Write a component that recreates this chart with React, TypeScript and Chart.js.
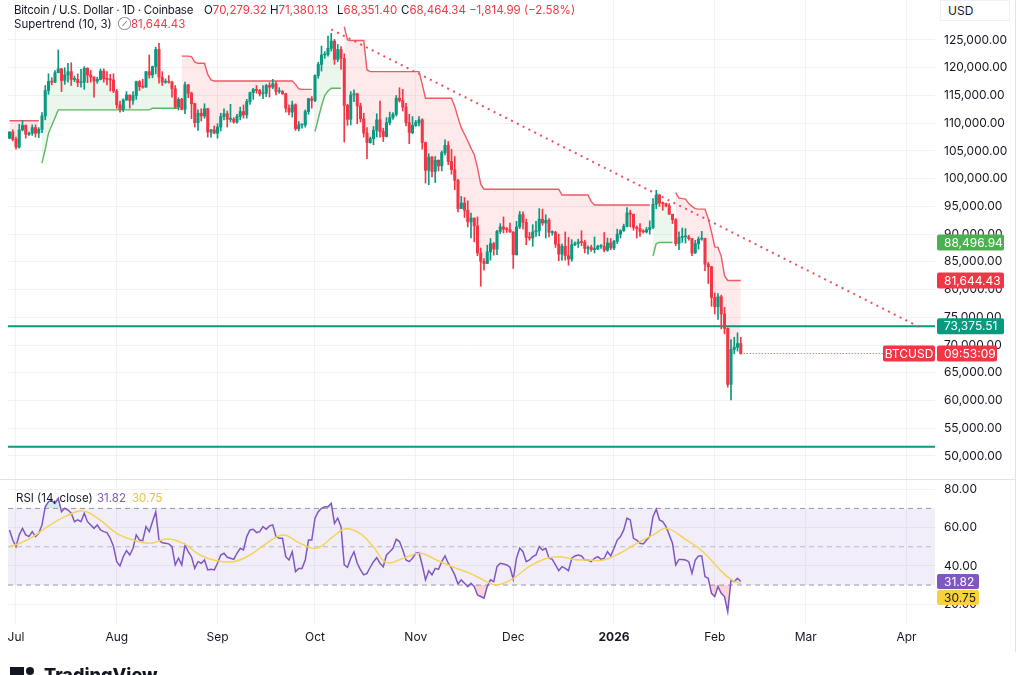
import React, { useEffect, useRef } from "react";
import { Chart, registerables } from "chart.js";

Chart.register(...registerables);

const _ = null;

// ---------------- data (prices in thousand USD) ----------------
const AXIS_ORIGIN = "2025-07-01";
const FIRST_BAR_DATE = "2025-06-29";
const FIRST_OPEN = 107.3;

const CLOSES = [
  108.4, 107.1, 105.7, 108.8, 109.6, 108.0, 108.2, 109.2, 108.2, 108.9,
  111.3, 115.9, 117.5, 117.4, 119.1, 119.8, 117.7, 118.7, 119.3, 117.9,
  117.9, 117.3, 117.4, 119.9, 118.7, 118.3, 117.6, 117.9, 119.4, 118.0,
  117.9, 117.8, 115.8, 113.3, 112.5, 114.2, 115.1, 114.1, 115.0, 117.5,
  116.6, 116.5, 119.3, 118.7, 120.2, 123.3, 118.3, 117.4, 117.5, 117.4,
  116.2, 112.9, 114.3, 112.5, 116.9, 115.4, 113.5, 110.1, 111.8, 111.3,
  112.6, 108.4, 108.8, 108.2, 109.3, 111.2, 111.7, 110.7, 110.7, 110.2,
  111.2, 112.1, 111.5, 113.9, 115.5, 116.1, 115.9, 115.3, 115.4, 116.8,
  116.5, 117.1, 115.7, 115.7, 115.3, 112.7, 112.0, 113.3, 109.0, 109.7,
  109.7, 112.1, 114.4, 114.1, 118.6, 120.6, 122.3, 122.4, 123.5, 124.8,
  121.5, 123.3, 121.7, 113.2, 110.7, 115.1, 115.3, 113.1, 110.8, 108.2,
  106.5, 107.2, 108.7, 110.6, 108.5, 107.6, 110.1, 111.0, 111.6, 114.5,
  114.1, 112.9, 110.1, 108.3, 109.6, 110.1, 110.6, 106.5, 101.5, 103.9,
  101.3, 103.3, 102.3, 104.7, 106.0, 103.1, 101.6, 99.7, 94.6, 95.6,
  94.3, 92.2, 92.9, 91.5, 86.6, 85.1, 84.7, 86.8, 88.3, 87.3,
  90.5, 91.3, 90.9, 90.8, 90.4, 86.3, 91.3, 93.5, 92.1, 89.4,
  89.3, 90.4, 90.6, 92.7, 92.0, 92.5, 90.3, 90.3, 88.2, 86.4,
  87.8, 86.1, 85.5, 88.1, 88.3, 88.6, 88.5, 87.4, 87.6, 87.2,
  87.3, 87.8, 87.8, 87.1, 88.4, 87.5, 88.7, 90.0, 90.6, 91.4,
  93.8, 93.6, 91.2, 91.0, 90.5, 90.4, 90.8, 91.2, 95.4, 97.0,
  95.6, 95.5, 95.1, 93.6, 92.6, 88.3, 89.4, 89.5, 89.5, 89.2,
  86.6, 88.3, 89.1, 89.2, 84.6, 84.1, 78.6, 76.9, 78.7, 75.6,
  73.0, 62.9, 69.2, 69.6, 70.27932, 68.46434,
];

const HIGHS = [
  108.5, 108.8, 107.5, 109.8, 110.5, 109.7, 108.4, 109.7, 109.7, 109.2,
  111.9, 116.8, 118.9, 118.2, 119.5, 123.2, 119.9, 120.0, 120.8, 120.9,
  118.5, 118.9, 119.7, 120.2, 120.0, 119.5, 118.4, 118.3, 119.8, 119.8,
  119.3, 118.8, 118.9, 116.1, 114.0, 114.4, 115.7, 115.1, 115.7, 117.6,
  117.7, 117.9, 119.3, 122.3, 120.3, 123.7, 124.4, 119.3, 118.0, 118.6,
  117.6, 116.8, 114.6, 114.5, 117.4, 117.0, 115.6, 113.6, 112.4, 112.6,
  113.5, 112.7, 108.9, 109.5, 109.9, 111.8, 112.6, 112.2, 113.4, 111.0,
  111.6, 112.9, 113.3, 114.3, 115.6, 116.3, 116.8, 116.1, 116.8, 117.0,
  117.3, 117.9, 117.5, 116.4, 115.9, 115.4, 113.3, 114.0, 113.5, 110.3,
  109.8, 112.4, 114.5, 114.8, 118.7, 121.0, 123.9, 122.9, 125.7, 126.2,
  125.1, 124.2, 123.8, 122.5, 113.4, 115.7, 116.0, 115.4, 113.6, 111.8,
  109.2, 107.5, 109.4, 111.7, 114.0, 109.1, 111.0, 112.0, 111.9, 115.0,
  116.4, 116.1, 113.6, 111.6, 111.2, 110.5, 111.2, 110.8, 106.6, 104.5,
  104.0, 104.0, 103.4, 105.0, 107.0, 106.7, 105.3, 104.0, 99.9, 96.8,
  96.6, 96.0, 93.8, 92.9, 93.1, 87.5, 85.6, 88.0, 89.2, 88.5,
  90.7, 91.9, 93.1, 91.2, 92.0, 90.4, 92.3, 94.1, 94.0, 92.7,
  90.3, 91.7, 92.3, 94.6, 94.5, 93.5, 92.8, 90.6, 90.5, 90.0,
  88.2, 90.4, 89.4, 89.0, 88.6, 89.1, 90.6, 88.9, 87.9, 88.0,
  89.5, 88.0, 88.1, 90.3, 89.3, 89.2, 88.9, 90.9, 90.8, 91.8,
  94.8, 94.3, 93.6, 91.5, 91.9, 90.8, 91.2, 92.4, 96.4, 97.9,
  97.2, 95.8, 95.6, 95.5, 93.5, 92.8, 90.4, 91.1, 91.0, 89.8,
  89.2, 88.9, 89.5, 90.5, 89.3, 84.9, 84.2, 79.4, 79.3, 79.0,
  76.8, 73.1, 71.0, 71.4, 72.2, 71.38013,
];

const LOWS = [
  107.2, 106.8, 105.3, 105.5, 108.6, 107.3, 107.8, 107.8, 107.5, 107.4,
  108.3, 110.6, 115.2, 116.9, 117.3, 119.1, 115.7, 117.0, 117.4, 116.8,
  117.5, 116.6, 116.5, 116.1, 117.3, 117.4, 114.7, 117.2, 117.8, 117.4,
  116.9, 115.8, 115.5, 112.7, 112.0, 112.1, 114.1, 112.7, 113.4, 114.3,
  115.9, 116.3, 116.5, 118.1, 118.2, 118.9, 117.2, 116.8, 117.2, 117.2,
  114.7, 112.7, 112.4, 112.4, 111.7, 114.6, 110.8, 109.3, 108.7, 110.4,
  110.9, 107.5, 107.5, 108.1, 107.3, 108.6, 110.6, 109.3, 110.2, 110.0,
  110.0, 110.6, 110.9, 110.9, 113.4, 114.3, 115.4, 114.9, 114.4, 114.8,
  114.7, 116.2, 115.1, 115.4, 115.2, 112.0, 111.5, 111.1, 108.7, 108.6,
  109.1, 109.3, 111.6, 112.7, 113.9, 118.1, 119.4, 121.7, 122.1, 123.0,
  120.6, 121.1, 119.7, 106.6, 109.6, 109.7, 113.9, 109.9, 110.2, 107.5,
  103.6, 106.4, 106.1, 107.5, 107.5, 106.7, 107.5, 109.7, 110.7, 111.3,
  113.8, 112.2, 109.5, 106.3, 108.1, 109.4, 109.5, 105.3, 99.2, 98.9,
  100.3, 99.3, 101.4, 101.4, 104.3, 102.5, 100.8, 98.0, 94.0, 94.6,
  93.0, 91.3, 89.3, 88.6, 86.1, 80.6, 83.5, 84.7, 85.3, 86.2,
  86.3, 90.1, 90.2, 90.3, 90.3, 83.8, 86.2, 91.0, 90.9, 88.1,
  88.9, 87.8, 89.6, 89.7, 91.6, 89.3, 89.5, 89.8, 87.6, 85.2,
  85.3, 85.3, 84.4, 85.1, 87.9, 87.6, 87.9, 86.6, 86.4, 86.9,
  86.6, 87.2, 87.4, 86.8, 86.9, 87.2, 87.2, 88.3, 89.3, 90.5,
  91.3, 91.3, 90.7, 89.3, 89.6, 90.2, 90.2, 90.0, 91.0, 94.6,
  95.0, 94.3, 94.9, 93.5, 91.9, 87.9, 87.2, 88.5, 88.4, 88.9,
  86.1, 86.5, 87.3, 88.9, 83.4, 81.1, 77.0, 75.6, 74.6, 72.9,
  72.0, 62.4, 60.1, 68.4, 68.9, 68.3514,
];

// Supertrend (10, 3): downtrend line (red) and uptrend line (green), per bar
const ST_DOWN = [
  110.45, 110.45, 110.45, 110.45, 110.45, 110.45, 110.45, 110.45, 110.45, 110.45,
  _, _, _, _, _, _, _, _, _, _,
  _, _, _, _, _, _, _, _, _, _,
  _, _, _, _, _, _, _, _, _, _,
  _, _, _, _, _, _, _, _, _, _,
  _, _, _, 122.1, 122.1, 122.1, 122.0, 121.0, 120.8, 120.8,
  120.8, 118.8, 117.8, 117.6, 117.6, 117.6, 117.6, 117.6, 117.6, 117.6,
  117.6, 117.6, 117.6, 117.6, 117.6, 117.6, 117.6, 117.6, 117.6, 117.6,
  117.6, 117.6, 117.6, 117.6, 117.6, 117.6, 117.6, 117.6, 117.0, 116.2,
  116.1, 116.1, 116.1, 116.1, _, _, _, _, _, _,
  _, _, _, 127.4, 125.0, 124.9, 124.9, 124.9, 124.9, 124.9,
  119.6, 119.3, 119.3, 119.3, 119.3, 119.3, 119.3, 119.3, 119.3, 119.3,
  119.3, 119.3, 119.3, 119.3, 119.3, 119.3, 119.3, 117.0, 114.5, 114.5,
  114.5, 114.5, 114.5, 114.5, 114.5, 114.5, 114.5, 113.0, 111.0, 109.2,
  108.0, 106.8, 105.5, 104.3, 102.0, 99.0, 98.1, 98.1, 98.1, 98.1,
  98.1, 98.1, 98.1, 98.1, 98.1, 98.1, 98.1, 98.1, 98.1, 98.1,
  98.1, 98.1, 98.1, 98.1, 98.1, 98.1, 98.1, 98.1, 98.1, 98.1,
  97.05, 97.05, 97.05, 97.05, 97.05, 97.05, 97.05, 97.05, 97.05, 95.85,
  95.25, 95.25, 95.25, 95.25, 95.25, 95.25, 95.25, 95.25, 95.25, 95.25,
  95.25, 95.25, 95.25, 95.25, 95.25, 95.25, 95.25, 95.25, _, _,
  _, _, _, _, _, 97.5, 96.5, 96.4, 96.3, 95.5,
  95.0, 94.6, 94.5, 94.5, 94.5, 92.8, 90.4, 87.7, 87.6, 86.0,
  82.5, 81.64443, 81.64443, 81.64443, 81.64443, 81.64443,
];

const ST_UP = [
  _, _, _, _, _, _, _, _, _, _,
  102.8, 105.3, 108.2, 109.6, 111.0, 112.4, 112.4, 112.4, 112.4, 112.4,
  112.4, 112.4, 112.4, 112.4, 112.4, 112.4, 112.4, 112.4, 112.4, 112.4,
  112.4, 112.4, 112.4, 112.4, 112.4, 112.4, 112.4, 112.4, 112.4, 112.4,
  112.4, 112.4, 112.4, 112.4, 112.7, 112.7, 112.7, 112.7, 112.7, 112.7,
  112.7, 112.7, 112.7, _, _, _, _, _, _, _,
  _, _, _, _, _, _, _, _, _, _,
  _, _, _, _, _, _, _, _, _, _,
  _, _, _, _, _, _, _, _, _, _,
  _, _, _, _, 108.5, 110.8, 113.1, 115.0, 115.8, 116.3,
  116.3, 116.3, 116.3, _, _, _, _, _, _, _,
  _, _, _, _, _, _, _, _, _, _,
  _, _, _, _, _, _, _, _, _, _,
  _, _, _, _, _, _, _, _, _, _,
  _, _, _, _, _, _, _, _, _, _,
  _, _, _, _, _, _, _, _, _, _,
  _, _, _, _, _, _, _, _, _, _,
  _, _, _, _, _, _, _, _, _, _,
  _, _, _, _, _, _, _, _, _, _,
  _, _, _, _, _, _, _, _, 86.05, 88.3,
  88.49694, 88.49694, 88.49694, 88.49694, 88.49694, _, _, _, _, _,
  _, _, _, _, _, _, _, _, _, _,
  _, _, _, _, _, _,
];

const RSI = [
  58.8, 53.5, 50.1, 56.2, 59.6, 56.2, 55.3, 57.9, 55.3, 57.0,
  61.4, 70.9, 73.6, 74.1, 72.7, 75.3, 68.3, 70.1, 69.2, 67.5,
  63.1, 64.0, 63.1, 67.5, 63.1, 61.4, 59.6, 61.4, 58.8, 57.9,
  57.4, 54.4, 50.1, 42.2, 40.0, 44.8, 48.0, 45.7, 49.2, 56.2,
  53.5, 53.2, 60.5, 57.9, 63.1, 68.3, 53.5, 52.1, 51.8, 51.5,
  50.1, 40.5, 44.0, 40.5, 50.9, 47.4, 44.8, 38.7, 42.2, 41.4,
  43.1, 37.9, 38.2, 37.9, 41.4, 45.7, 46.6, 44.5, 44.0, 43.4,
  46.6, 49.2, 48.3, 55.3, 58.8, 59.1, 57.4, 57.9, 60.5, 59.1,
  60.9, 61.4, 55.3, 54.4, 54.4, 44.8, 43.1, 47.4, 37.0, 38.7,
  38.7, 43.1, 53.5, 53.5, 64.9, 68.3, 70.1, 70.9, 70.9, 72.7,
  62.2, 64.9, 60.5, 40.5, 39.3, 44.0, 47.4, 41.4, 37.9, 35.3,
  36.1, 39.3, 42.2, 44.3, 41.4, 39.6, 45.7, 47.4, 49.2, 53.9,
  52.7, 48.3, 43.1, 42.2, 44.0, 46.6, 46.9, 40.5, 32.7, 37.5,
  35.3, 38.7, 38.2, 42.2, 45.2, 41.4, 38.7, 35.3, 30.6, 32.7,
  30.9, 29.2, 30.9, 29.2, 24.8, 24.0, 23.1, 29.2, 32.7, 31.8,
  39.6, 41.4, 41.0, 40.5, 39.3, 33.0, 44.0, 49.2, 47.4, 42.2,
  43.1, 44.8, 45.7, 50.1, 48.3, 49.2, 44.0, 43.4, 40.5, 37.5,
  39.6, 38.7, 37.5, 44.0, 45.2, 45.7, 45.2, 43.1, 43.1, 42.2,
  44.0, 44.8, 43.4, 44.0, 47.4, 45.2, 49.2, 53.5, 55.3, 58.8,
  64.9, 64.0, 54.4, 53.5, 51.8, 51.5, 53.5, 55.3, 65.7, 69.6,
  64.0, 63.1, 60.5, 56.2, 51.8, 40.5, 43.4, 43.4, 43.1, 42.2,
  36.1, 43.1, 45.2, 45.2, 34.4, 33.5, 25.7, 24.0, 29.2, 25.7,
  24.0, 16.1, 32.7, 31.8, 33.5, 31.82,
];

// RSI-based moving average (read at the points where it was sampled; day offset from Jul 1)
const RSI_MA_DAYS = [
  -2, 1.2, 5.3, 10.5, 15.6, 20.7, 25.8, 31, 36.1, 41.2, 46.4, 51.5, 56.6, 61.7, 66.9, 72,
  77.1, 82.3, 87.4, 92.5, 97.6, 101.2, 105.8, 109.9, 114, 119.2, 124.3, 129.4, 134.6,
  139.7, 144.8, 147.9, 153, 158.2, 163.3, 167.4, 171.5, 175.6, 180.7, 185.8, 191,
  196.1, 200.2, 206.3, 211.4, 216.6, 220.2, 223,
];
const RSI_MA = [
  50.1, 51.8, 55.3, 61.4, 66.1, 68.7, 64.0, 57.0, 53.5, 51.8, 54.1, 51.8, 45.7, 42.7, 42.2, 45.7,
  51.8, 56.2, 51.8, 49.2, 55.3, 59.3, 57.0, 50.1, 41.7, 44.0, 46.6, 43.1, 39.3,
  36.1, 31.8, 30.0, 33.5, 40.0, 44.0, 44.8, 43.4, 43.1, 43.1, 46.6, 51.8,
  56.2, 59.6, 53.5, 47.4, 37.9, 32.7, 30.75,
];

const MONTH_TICK_DATES = [
  "2025-07-01", "2025-08-01", "2025-09-01", "2025-10-01", "2025-11-01", "2025-12-01",
  "2026-01-01", "2026-02-01", "2026-03-01", "2026-04-01",
];
const MONTH_LABELS = ["Jul", "Aug", "Sep", "Oct", "Nov", "Dec", "2026", "Feb", "Mar", "Apr"];
const PRICE_TICKS = [50000, 55000, 60000, 65000, 70000, 75000, 80000, 85000, 90000, 95000, 100000, 105000, 110000, 115000, 120000, 125000];
const RSI_TICKS = [20, 40, 60, 80];

const SUPPORT_LEVEL = 73375.51;
const LOWER_LEVEL = 51650;
const TREND_DAYS = [97, 277.8];
const TREND_PRICES = [126900, 73300];
const LAST_CLOSE = 68464.34;
const ST_UP_LAST = 88496.94;
const ST_DOWN_LAST = 81644.43;
const RSI_LAST = 31.82;
const RSI_MA_LAST = 30.75;
const COUNTDOWN = "09:53:09";

// ---------------- helpers ----------------
const DAY_MS = 86400000;
const dayOf = (iso: string) =>
  Math.round((Date.parse(iso + "T00:00:00Z") - Date.parse(AXIS_ORIGIN + "T00:00:00Z")) / DAY_MS);
const FIRST_DAY = dayOf(FIRST_BAR_DATE);
const MONTH_DAYS = MONTH_TICK_DATES.map(dayOf);
const X_MIN = -2.46;
const X_MAX = 282.77;
const Y_MIN = 45848;
const Y_MAX = 132212;
const RSI_MIN = 9.14;
const RSI_MAX = 85.38;

const UP = "#089981";
const DOWN = "#f23645";
const FONT = "Inter, Roboto, 'Noto Sans', sans-serif";
const TEXT = "#131722";

const BARS = CLOSES.map((c, i) => ({
  x: FIRST_DAY + i,
  o: (i === 0 ? FIRST_OPEN : CLOSES[i - 1]) * 1000,
  h: HIGHS[i] * 1000,
  l: LOWS[i] * 1000,
  c: c * 1000,
}));
const BAR_COLORS = BARS.map((b) => (b.c >= b.o ? UP : DOWN));

const fmt2 = (v: number) =>
  v.toLocaleString("en-US", { minimumFractionDigits: 2, maximumFractionDigits: 2 });

function drawBox(ctx: any, x: number, yc: number, w: number, h: number, bg: string, fg: string, text: string, align = "left") {
  ctx.fillStyle = bg;
  ctx.beginPath();
  if (ctx.roundRect) ctx.roundRect(x, yc - h / 2, w, h, 2);
  else ctx.rect(x, yc - h / 2, w, h);
  ctx.fill();
  ctx.fillStyle = fg;
  ctx.textBaseline = "middle";
  if (align === "center") {
    ctx.textAlign = "center";
    ctx.fillText(text, x + w / 2, yc + 0.5);
  } else {
    ctx.textAlign = "left";
    ctx.fillText(text, x + 7, yc + 0.5);
  }
}

const mainOverlay = {
  id: "mainOverlay",
  afterDraw(chart: any) {
    const { ctx, chartArea, scales } = chart;
    const y = scales.y;
    ctx.save();
    ctx.font = `12px ${FONT}`;
    const ax = chartArea.right + 2;
    drawBox(ctx, ax, y.getPixelForValue(ST_UP_LAST), 67, 16, "#4caf50", "#fff", fmt2(ST_UP_LAST));
    drawBox(ctx, ax, y.getPixelForValue(ST_DOWN_LAST), 67, 16, DOWN, "#fff", fmt2(ST_DOWN_LAST));
    drawBox(ctx, ax, y.getPixelForValue(SUPPORT_LEVEL), 67, 16, UP, "#fff", fmt2(SUPPORT_LEVEL));
    const yl = y.getPixelForValue(LAST_CLOSE);
    drawBox(ctx, chartArea.right - 52, yl, 52, 16, DOWN, "#fff", "BTCUSD", "center");
    drawBox(ctx, ax, yl, 60, 16, DOWN, "#fff", COUNTDOWN);
    ctx.restore();
  },
};

const rsiOverlay = {
  id: "rsiOverlay",
  afterDraw(chart: any) {
    const { ctx, chartArea, scales } = chart;
    const y = scales.y;
    ctx.save();
    ctx.font = `12px ${FONT}`;
    const ax = chartArea.right + 2;
    const yc = y.getPixelForValue(RSI_LAST);
    drawBox(ctx, ax, yc, 42, 15, "#7e57c2", "#fff", RSI_LAST.toFixed(2));
    drawBox(ctx, ax, yc + 16, 42, 15, "#f7d23e", TEXT, RSI_MA_LAST.toFixed(2));
    ctx.restore();
  },
};

const lineLevel = (v: number) => [
  { x: X_MIN, y: v },
  { x: X_MAX, y: v },
];

function mainConfig(): any {
  const mid = BARS.map((b) => ({ x: b.x, y: (b.o + b.c) / 2 }));
  return {
    type: "bar",
    data: {
      datasets: [
        { type: "line", label: "body middle", data: mid, borderColor: "rgba(0,0,0,0)", borderWidth: 0, pointRadius: 0, fill: false, order: 30 },
        {
          type: "line", label: "Supertrend down", data: ST_DOWN.map((v, i) => ({ x: FIRST_DAY + i, y: v == null ? null : v * 1000 })),
          borderColor: "#ee5a66", borderWidth: 1.4, pointRadius: 0, spanGaps: false,
          fill: { target: 0, above: "rgba(242,54,69,0.11)", below: "rgba(242,54,69,0.11)" }, order: 25,
        },
        {
          type: "line", label: "Supertrend up", data: ST_UP.map((v, i) => ({ x: FIRST_DAY + i, y: v == null ? null : v * 1000 })),
          borderColor: "#5cb860", borderWidth: 1.4, pointRadius: 0, spanGaps: false,
          fill: { target: 0, above: "rgba(76,175,80,0.11)", below: "rgba(76,175,80,0.11)" }, order: 25,
        },
        { type: "line", label: "level", data: lineLevel(SUPPORT_LEVEL), borderColor: UP, borderWidth: 2, pointRadius: 0, order: 10 },
        { type: "line", label: "lower level", data: lineLevel(LOWER_LEVEL), borderColor: UP, borderWidth: 2, pointRadius: 0, order: 10 },
        {
          type: "line", label: "trend", data: TREND_DAYS.map((d, i) => ({ x: d, y: TREND_PRICES[i] })),
          borderColor: "#ee4f5c", borderWidth: 2, borderDash: [2, 4.5], pointRadius: 0, order: 9,
        },
        {
          type: "line", label: "last price", data: [{ x: BARS[BARS.length - 1].x, y: LAST_CLOSE }, { x: X_MAX, y: LAST_CLOSE }],
          borderColor: DOWN, borderWidth: 1, borderDash: [1, 2], pointRadius: 0, order: 9,
        },
        {
          type: "bar", label: "wicks", data: BARS.map((b) => ({ x: b.x, y: [b.l, b.h] })),
          backgroundColor: BAR_COLORS, barThickness: 1, grouped: false, order: 2,
        },
        {
          type: "bar", label: "bodies", data: BARS.map((b) => ({ x: b.x, y: [b.o, b.c] })),
          backgroundColor: BAR_COLORS, barThickness: 2.4, grouped: false, minBarLength: 1, order: 1,
        },
      ],
    },
    options: {
      animation: false,
      responsive: false,
      maintainAspectRatio: false,
      events: [],
      layout: { padding: { left: 8, right: 0, top: 0, bottom: 0 } },
      plugins: { legend: { display: false }, tooltip: { enabled: false } },
      scales: {
        x: {
          type: "linear", min: X_MIN, max: X_MAX, offset: false,
          grid: { color: "#f0f2f6", drawTicks: false, offset: false },
          border: { display: false },
          ticks: { display: false },
          afterBuildTicks: (s: any) => { s.ticks = MONTH_DAYS.map((v) => ({ value: v })); },
          afterFit: (s: any) => { s.height = 0; s.paddingLeft = 0; s.paddingRight = 0; },
        },
        y: {
          type: "linear", position: "right", min: Y_MIN, max: Y_MAX,
          grid: { color: "#f0f2f6", drawTicks: false },
          border: { display: false },
          ticks: { padding: 9, color: TEXT, font: { family: FONT, size: 12 }, callback: (v: any) => fmt2(Number(v)) },
          afterBuildTicks: (s: any) => { s.ticks = PRICE_TICKS.map((v) => ({ value: v })); },
          afterFit: (s: any) => { s.width = 89; s.paddingTop = 0; s.paddingBottom = 0; },
        },
      },
    },
    plugins: [mainOverlay],
  };
}

function rsiConfig(): any {
  const gray = "rgba(120,123,134,0.75)";
  return {
    type: "line",
    data: {
      datasets: [
        { label: "30", data: lineLevel(30), borderColor: gray, borderWidth: 1, borderDash: [5, 4], pointRadius: 0, fill: false, order: 20 },
        {
          label: "70", data: lineLevel(70), borderColor: gray, borderWidth: 1, borderDash: [5, 4], pointRadius: 0,
          fill: { target: 0, above: "rgba(126,87,194,0.10)", below: "rgba(126,87,194,0.10)" }, order: 20,
        },
        { label: "50", data: lineLevel(50), borderColor: "rgba(120,123,134,0.45)", borderWidth: 1, borderDash: [5, 4], pointRadius: 0, fill: false, order: 19 },
        {
          label: "RSI oversold fill", data: RSI.map((v, i) => ({ x: FIRST_DAY + i, y: v })), borderColor: "rgba(0,0,0,0)", borderWidth: 0, pointRadius: 0,
          fill: { target: { value: 30 }, above: "rgba(0,0,0,0)", below: "rgba(242,54,69,0.22)" }, order: 5,
        },
        {
          label: "RSI overbought fill", data: RSI.map((v, i) => ({ x: FIRST_DAY + i, y: v })), borderColor: "rgba(0,0,0,0)", borderWidth: 0, pointRadius: 0,
          fill: { target: { value: 70 }, above: "rgba(8,153,129,0.18)", below: "rgba(0,0,0,0)" }, order: 5,
        },
        {
          label: "RSI", data: RSI.map((v, i) => ({ x: FIRST_DAY + i, y: v })), borderColor: "#7e57c2", borderWidth: 1.5, pointRadius: 0, fill: false, order: 2,
        },
        {
          label: "RSI-based MA", data: RSI_MA_DAYS.map((d, i) => ({ x: d, y: RSI_MA[i] })), borderColor: "#f5d35a", borderWidth: 1.5,
          tension: 0.4, pointRadius: 0, fill: false, order: 1,
        },
      ],
    },
    options: {
      animation: false,
      responsive: false,
      maintainAspectRatio: false,
      events: [],
      layout: { padding: { left: 8, right: 0, top: 0, bottom: 0 } },
      plugins: { legend: { display: false }, tooltip: { enabled: false } },
      scales: {
        x: {
          type: "linear", min: X_MIN, max: X_MAX, offset: false,
          grid: { color: "#f0f2f6", drawTicks: false },
          border: { display: false },
          ticks: {
            padding: 5, color: TEXT, autoSkip: false, maxRotation: 0,
            font: (c: any) => ({ family: FONT, size: 12, weight: c.tick && c.tick.value === MONTH_DAYS[6] ? "bold" : "normal" }),
            callback: (v: any) => MONTH_LABELS[MONTH_DAYS.indexOf(Number(v))] ?? "",
          },
          afterBuildTicks: (s: any) => { s.ticks = MONTH_DAYS.map((v) => ({ value: v })); },
          afterFit: (s: any) => { s.height = 50; s.paddingLeft = 0; s.paddingRight = 0; },
        },
        y: {
          type: "linear", position: "right", min: RSI_MIN, max: RSI_MAX,
          grid: { color: "#f0f2f6", drawTicks: false },
          border: { display: false },
          ticks: { padding: 9, color: TEXT, font: { family: FONT, size: 12 }, callback: (v: any) => Number(v).toFixed(2) },
          afterBuildTicks: (s: any) => { s.ticks = RSI_TICKS.map((v) => ({ value: v })); },
          afterFit: (s: any) => { s.width = 89; s.paddingTop = 0; s.paddingBottom = 0; },
        },
      },
    },
    plugins: [rsiOverlay],
  };
}

const abs = (left: number, top: number, extra: any = {}): any => ({
  position: "absolute", left, top, lineHeight: "16px", whiteSpace: "nowrap", ...extra,
});

export default function App() {
  const mainRef = useRef<HTMLCanvasElement>(null);
  const rsiRef = useRef<HTMLCanvasElement>(null);

  useEffect(() => {
    const main = new Chart(mainRef.current as HTMLCanvasElement, mainConfig());
    const rsi = new Chart(rsiRef.current as HTMLCanvasElement, rsiConfig());
    return () => {
      main.destroy();
      rsi.destroy();
    };
  }, []);

  const hs = { fontSize: 11.5, color: TEXT };
  const red = { fontSize: 11.5, color: DOWN };
  return (
    <div style={{ position: "fixed", left: 0, top: 0, width: 1024, height: 675, overflow: "hidden", background: "#fff", fontFamily: FONT }}>
      <canvas ref={mainRef} width={1024} height={479} style={{ position: "absolute", left: 0, top: 0 }} />
      <canvas ref={rsiRef} width={1024} height={196} style={{ position: "absolute", left: 0, top: 479 }} />
      <div style={{ position: "absolute", left: 0, top: 479, width: 1015, height: 1, background: "#e0e3eb" }} />
      <div style={{ position: "absolute", left: 1015, top: 0, width: 1, height: 652, background: "#e0e3eb" }} />

      <div style={abs(14, 2, { ...hs, letterSpacing: "-0.25px" })}>Bitcoin / U.S. Dollar · 1D · Coinbase</div>
      <div style={abs(204, 2, hs)}>O<span style={{ color: DOWN }}>70,279.32</span></div>
      <div style={abs(270, 2, hs)}>H<span style={{ color: DOWN }}>71,380.13</span></div>
      <div style={abs(337, 2, hs)}>L<span style={{ color: DOWN }}>68,351.40</span></div>
      <div style={abs(401, 2, hs)}>C<span style={{ color: DOWN }}>68,464.34</span></div>
      <div style={abs(469, 2, red)}>−1,814.99 (−2.58%)</div>

      <div style={abs(14, 16, hs)}>Supertrend (10, 3)</div>
      <div style={abs(118, 16, { fontSize: 9.5, color: "#787b86" })}>⊘</div>
      <div style={abs(131, 16, red)}>81,644.43</div>

      <div style={{ position: "absolute", left: 940, top: 0, width: 70, height: 21, background: "#fff", border: "1px solid #eef0f4", boxSizing: "border-box" }} />
      <div style={abs(948, 3, { fontSize: 12, color: TEXT })}>USD</div>

      <div style={abs(16, 490, hs)}>RSI (14, close)</div>
      <div style={abs(97, 490, { fontSize: 11.5, color: "#7e57c2" })}>31.82</div>
      <div style={abs(132, 490, { fontSize: 11.5, color: "#e9c33a" })}>30.75</div>

      <div style={{ position: "absolute", left: 10, top: 667, width: 14, height: 10, background: "#131722" }} />
      <div style={{ position: "absolute", left: 26, top: 667, width: 8, height: 8, borderRadius: 4, background: "#131722" }} />
      <div style={abs(44, 663, { fontSize: 18, fontWeight: 800, color: "#131722", lineHeight: "24px" })}>TradingView</div>
    </div>
  );
}
